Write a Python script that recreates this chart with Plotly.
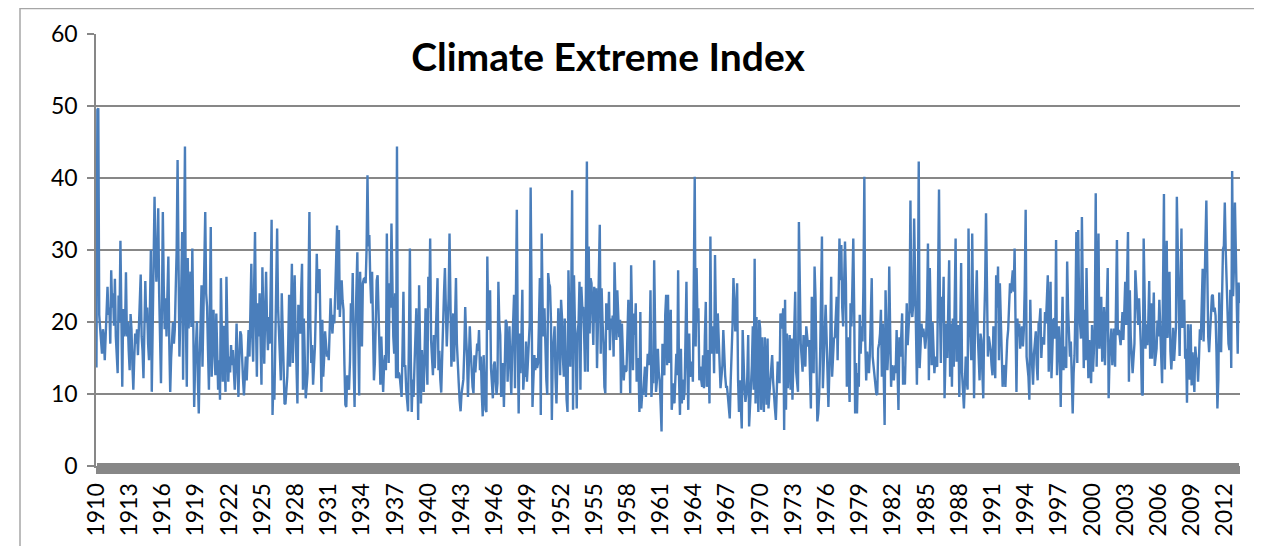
import plotly.graph_objects as go

# ---------------- data (monthly Climate Extreme Index, Jan 1910 onward) -------------
start_year = 1910

cei_part01 = [13.7, 49.5, 49.7, 21, 19.1, 17, 15.6, 19, 17.9, 14.7,
              17.5, 20, 24.9, 21, 22, 17, 27.2, 22, 24, 19.5,
              26, 18, 16, 12.9, 23.7, 20, 31.3, 19.8, 11, 21.8,
              18, 19, 26.9, 18, 20, 16, 13.3, 21.1, 19, 14,
              10.6, 15, 18.4, 17, 19, 15.4, 20, 23.3, 26.6, 18,
              16, 12.2, 18, 25.7, 20, 22, 17, 14.7, 22, 30,
              10.3, 19, 25, 37.4, 30, 25.6, 29, 35.8, 24, 17.7,
              11.5, 22, 35.3, 25, 19, 23.3, 18, 24, 29.1, 17,
              10.3, 15, 18.4, 20, 17, 19, 24.7, 30, 42.5, 24,
              15.2, 21, 25, 32.5, 12, 30, 44.4, 20, 11, 28.9,
              19.1]
cei_part02 = [24, 27, 19.3, 30.2, 20, 8.2, 14, 17, 20.1, 12,
              7.3, 15, 20, 25.1, 13.8, 20, 27, 35.3, 24, 22.1,
              16, 10.6, 22, 33.2, 12.4, 18, 21.7, 16, 12.6, 21.2,
              14, 10.6, 14.7, 9.2, 26.1, 18, 11.7, 19.5, 15, 10.3,
              26.3, 17, 11.7, 15.2, 13, 16.8, 14, 16.1, 13, 10.6,
              14.5, 19.8, 14, 9.6, 15, 18.7, 18.2, 14, 12, 9.8,
              14, 15.2, 11.9, 16, 18.9, 15.2, 20, 28.1, 18, 14.5,
              24.9, 32.5, 20, 12.4, 22.6, 18, 24, 17, 11.3, 27.6,
              20, 14.2, 21, 27, 20, 16.1, 20.7, 17, 25, 34.2,
              7.1, 12, 9.2, 16, 24, 33, 22, 17.5, 14, 11.9,
              24, 18, 13, 8.7]
cei_part03 = [8.6, 11, 12.4, 17, 23.8, 13.8, 20, 28.1, 14.3, 20,
              26.5, 18.9, 14, 8.7, 22.4, 20, 18.4, 24, 28.1, 10.6,
              20.5, 15, 9.4, 11, 12.9, 25, 35.3, 20, 14.3, 16.8,
              11.3, 14, 16.6, 22, 29.5, 24, 27.2, 27.2, 16, 10.3,
              20.3, 12.4, 15, 18.7, 17, 15.2, 16, 14.7, 19, 23.3,
              20, 18.4, 21, 19.8, 24, 30, 33.4, 21.7, 32.8, 20.7,
              23, 25.8, 23, 21.7, 14, 8.5, 8.2, 12.6, 11, 10.6,
              14.5, 22.6, 20, 26.8, 14, 8.2, 19.3, 24, 29.7, 18,
              9.8, 27, 20, 16.6, 25.4, 26, 26.1, 25.4, 30, 40.4,
              30.5, 32.1, 26, 22.6, 27, 18, 11.9, 14.3, 20, 25.8,
              26.5, 20, 15.2]
cei_part04 = [11.3, 18, 15.2, 10.3, 14, 15.4, 13.3, 32.3, 20, 14.3,
              25.4, 22, 33.7, 24, 18, 15.6, 24, 12.2, 44.4, 12.2,
              13, 12.4, 11, 9.6, 16, 24.2, 13.8, 14, 10.6, 9,
              7.6, 18, 30.2, 15, 7.5, 12, 9.6, 14, 17, 21.9,
              15.6, 6.4, 25.1, 18, 8.7, 16.1, 14, 10.3, 16, 21.9,
              15, 11.3, 26.3, 22, 31.6, 17.5, 15, 12.6, 18.2, 13.6,
              18, 22, 26.1, 13.3, 16, 12, 10.2, 15, 21.7, 24,
              27.5, 20, 16.6, 20, 23.3, 32.3, 25, 13.8, 17, 21.2,
              14.5, 22, 26.1, 17, 12.9, 11.5, 9, 7.6, 10, 11.3,
              12, 16, 22.1, 18, 15.2, 9.6, 14, 19.4, 16, 12.9,
              11, 10.1, 15.4]
cei_part05 = [13, 15.4, 17, 16, 18.9, 13.3, 15.2, 10, 6.9, 15.4,
              11, 7.8, 7.5, 29.1, 18.9, 21, 24.4, 13.6, 11, 9.4,
              14, 14.5, 12, 9.9, 11.5, 25.6, 20, 18.2, 9.6, 12,
              14.3, 8.2, 16, 20.3, 19.8, 11.7, 16, 19.4, 13.8, 9.9,
              16.1, 18.9, 23.8, 10.8, 20, 35.6, 18.4, 7.3, 18.4, 12.9,
              18, 24.5, 10.6, 13, 12.4, 17.3, 11.7, 15, 18.9, 19.8,
              38.7, 18.9, 8.2, 12, 15.4, 13.3, 15, 13.6, 14.3, 20,
              26.1, 7.1, 32.3, 22.1, 18, 21.9, 15.6, 12, 9.9, 26.8,
              25.4, 24.9, 20.5, 6.4, 15.6, 17, 19.4, 12.2, 8.7, 15,
              21.9, 18.2, 12.6, 23.1, 20.7, 15, 12.4, 20.5, 14, 9.2,
              7.5, 27.2, 20.5]
cei_part06 = [13.8, 22.6, 38.3, 7.8, 26.5, 20, 16.1, 8, 18.4, 20,
              25.6, 10.6, 24.9, 22, 22.1, 18.4, 13.1, 25, 42.3, 13.1,
              30.5, 18.4, 26.1, 25.4, 20, 16.8, 24.9, 20, 24.7, 13.6,
              19.8, 25, 33.5, 15.6, 24.7, 20, 17, 11, 10.1, 22.6,
              20, 18.9, 24.2, 16.1, 20.5, 19, 20.9, 15.2, 28.3, 20,
              17.5, 24.4, 20, 17.9, 20.3, 10.1, 19.8, 16, 11.9, 14,
              13.1, 13.3, 20, 23.1, 17.7, 10.1, 27.9, 18, 13.3, 21.2,
              18.2, 22.6, 11.7, 15, 14, 7.5, 21.4, 8, 10, 9.9,
              12, 13.8, 9.6, 14.3, 15.6, 14, 16.1, 24.4, 9.6, 12,
              11.5, 28.6, 14, 10.3, 11.9, 16.3, 13, 11.9, 8.5, 4.8,
              17, 14, 12.6]
cei_part07 = [21, 23.8, 14, 23.8, 14.3, 18, 21.7, 7.8, 10, 11.5,
              8.7, 12, 15.6, 12.6, 27.2, 12, 7.1, 16.3, 8.7, 12,
              9.2, 10.3, 18, 25.6, 14, 7.8, 18.4, 12.4, 13, 14.5,
              11.7, 28, 40.2, 16.6, 27.5, 20, 21.9, 11.9, 13.8, 12,
              11, 15.4, 10.8, 18, 22.8, 11, 13, 16.1, 8.7, 31.9,
              15.6, 18, 19.4, 12.9, 29.3, 20, 15.6, 21.2, 18, 15.6,
              10.8, 12.4, 14, 18.9, 14, 12.6, 11, 11, 9.6, 8,
              6.6, 11.7, 15, 19.6, 26.1, 20, 18.7, 21.9, 25.4, 12,
              7.5, 11.9, 8.9, 5.2, 18.9, 12, 10.6, 8.9, 10, 12.4,
              18.2, 5.5, 8, 10.3, 14, 19.4, 10.6, 28.8, 8.7, 20.7,
              12, 7.5, 20.3, 19.1]
cei_part08 = [7.8, 17.9, 12, 7.5, 17.9, 12, 8.5, 17.7, 8, 10,
              12.4, 14, 15.4, 11.9, 9.2, 8, 6.4, 11.7, 14.5, 13,
              11.5, 21.2, 19.1, 20, 21.9, 5, 23.1, 7.8, 18.4, 10.8,
              14, 18.2, 10.6, 17.7, 9.2, 14, 16.6, 24.2, 13.1, 11,
              10.3, 33.9, 21.7, 17, 15, 13.1, 18.2, 16, 13.8, 19.4,
              18, 16.6, 17.5, 11.5, 8, 23.5, 18, 12.9, 27.7, 23.5,
              15, 6.2, 7.3, 10, 15.2, 21.7, 31.9, 10.8, 14, 17.9,
              22.4, 18, 13.3, 8.2, 13, 17, 26.3, 12.4, 15, 17.7,
              17.9, 20, 23.5, 14.7, 22, 31.6, 25.8, 30.7, 22, 19.4,
              24.9, 31.2, 25.4, 11, 17.9, 12, 8.9, 22.6, 19.4, 25,
              31.6, 21.4, 7.3]
cei_part09 = [14.3, 7.3, 12.9, 11, 21, 15.6, 19.4, 17.3, 25, 40.2,
              17.3, 11.9, 15.9, 14, 12.9, 15.6, 20, 26.1, 15.2, 13.8,
              12, 11.5, 10, 9.9, 16.3, 17, 18.4, 21.7, 12.4, 19.8,
              12, 5.7, 24.4, 16, 13.3, 16.3, 27.7, 18.9, 11, 14,
              12.9, 11.9, 14, 12.9, 18.9, 12, 7.8, 17.9, 15.2, 18,
              21.2, 11.3, 13.8, 11.3, 16, 22.6, 16.8, 19, 21.7, 36.9,
              22, 20.7, 22.4, 34.4, 24, 18.4, 11.3, 20.3, 42.3, 13.6,
              16, 19.8, 17.9, 19.1, 18, 16.3, 17.9, 22, 30.9, 11.9,
              27.5, 18, 14, 20, 16, 12.9, 15.2, 14, 13.8, 22.6,
              38.4, 22, 14.3, 23.5, 20, 26.3, 9.4, 15, 19.8, 15,
              22, 28.6, 12.4, 19.8]
cei_part10 = [11, 20.5, 13.8, 22, 31.6, 14.5, 17, 19.6, 9.6, 20,
              28.2, 12.9, 10, 8, 11.5, 15.2, 12, 10.6, 33, 20,
              17.9, 14.7, 32.3, 20, 9.4, 18.9, 22, 27.2, 18.4, 14,
              11.9, 18.4, 17.5, 13, 9.4, 19.8, 25, 35.1, 26.3, 15.2,
              18, 17, 16.1, 14, 12.6, 19.4, 15, 12.2, 26.5, 22,
              27.7, 14.7, 25.4, 20, 17.9, 11, 14, 13.6, 11, 15,
              17.5, 18.9, 22, 25.4, 24, 26, 27.2, 24.2, 30.2, 20,
              10.3, 20.5, 18, 19.8, 16.3, 18, 19.4, 16.6, 18.9, 25,
              35.6, 15.2, 14, 12.4, 9.2, 23.1, 16.6, 14, 11.3, 15.6,
              17, 18.7, 14, 11.9, 19.8, 20, 21.9, 15, 17.9, 17,
              17, 21.4, 19.8]
cei_part11 = [22.6, 26.5, 13.1, 18, 25.6, 12.2, 16, 20.3, 20.5, 17.7,
              31.4, 12.6, 16, 19.4, 16.1, 8.2, 17, 23.5, 13.3, 15,
              16.6, 13.6, 28.4, 21.7, 18, 15.2, 17.3, 12, 7.3, 12.9,
              15.4, 22, 32.5, 14.3, 32.8, 21.7, 19, 17.7, 34.6, 20,
              13.6, 21.7, 14.7, 27.5, 18, 12.2, 17.5, 14, 11.5, 19.6,
              13.1, 16, 19.8, 37.9, 13.8, 22, 32.3, 16.3, 20, 23.5,
              14.5, 17, 22.1, 14, 19.6, 22, 27.5, 9.4, 15.2, 17,
              19.1, 14, 17, 19.1, 13.8, 22, 31.4, 18.2, 18.9, 18,
              16.8, 19, 21.4, 17.5, 22, 25.6, 19.6, 25, 32.5, 11.7,
              24.4, 18, 13.8, 12.9, 15, 17, 27.2, 23.8, 22, 19.6,
              23.3, 20, 16.6, 10.1]
cei_part12 = [9.8, 31.6, 20, 16.3, 19.7, 16.8, 20, 25.7, 14.9, 22.6,
              14.9, 20, 24.1, 13.9, 15, 16.3, 20.2, 18, 23.1, 18,
              13.2, 11.5, 25, 37.8, 13.4, 20, 31.3, 17.8, 22, 27,
              16, 13.4, 16, 19.2, 14.6, 17, 19.2, 37.4, 28, 24,
              15.3, 25, 33, 19.2, 20, 23.1, 14.9, 16.3, 8.8, 19.7,
              15, 12, 19.7, 11.2, 15.8, 13, 10.3, 16.6, 15, 14.9,
              11.7, 15, 19, 17.5, 22, 27.4, 17.3, 27.9, 31, 36.9,
              23.6, 18, 15.8, 18.2, 21, 23.6, 23.8, 21.4, 22, 20.9,
              15.8, 8, 12, 24.1, 18, 15.8, 23, 30.1, 30.6, 36.6,
              30, 26, 18.7, 17, 16.1, 24.5, 13.6, 41, 23.6, 27.9,
              36.6, 30, 22.6, 15.6, 25.5, 22.6]

tick_years = ["1910", "1913", "1916", "1919", "1922", "1925", "1928", "1931",
              "1934", "1937", "1940", "1943", "1946", "1949", "1952", "1955",
              "1958", "1961", "1964", "1967", "1970", "1973", "1976", "1979",
              "1982", "1985", "1988", "1991", "1994", "1997", "2000", "2003",
              "2006", "2009", "2012"]

values = (cei_part01 + cei_part02 + cei_part03 + cei_part04 + cei_part05 +
          cei_part06 + cei_part07 + cei_part08 + cei_part09 + cei_part10 +
          cei_part11 + cei_part12)

months = []
tick_text = []
for k in range(len(values)):
    yr = start_year + k // 12
    mo = k % 12 + 1
    months.append(f"{yr}-{mo:02d}")
    tick_text.append(str(yr) if (mo == 1 and str(yr) in tick_years) else "")

# ---------------- figure -------------------------------------------------------------
# the page body adds an 8px offset, so figure coordinates are shifted by -8px
OFF = 8
W, H = 1262, 546
L, T = 96 - OFF, 34 - OFF
pw, ph = 1144, 432
R, B = W - L - pw, H - T - ph
grid = "#878787"
font_main = "Lato, Carlito, 'Liberation Sans', sans-serif"

fig = go.Figure()
fig.add_trace(go.Scatter(
    x=months, y=values, mode="lines",
    line=dict(color="#4a7ebb", width=2.4),
    showlegend=False, hoverinfo="x+y",
))

# second (invisible) axis only to draw the upward half of the dense category ticks
fig.add_trace(go.Scatter(x=[0], y=[None], xaxis="x2", showlegend=False,
                         hoverinfo="skip"))

n = len(values)
fig.update_layout(
    width=W, height=H,
    margin=dict(l=L, r=R, t=T, b=B, autoexpand=False),
    paper_bgcolor="white", plot_bgcolor="white",
    font=dict(family=font_main, color="black"),
    title=dict(text="<b>Climate Extreme Index</b>",
               xref="container", yref="container",
               x=(608 - OFF) / W, y=1 - (57 - OFF) / H,
               xanchor="center", yanchor="middle",
               font=dict(family=font_main, size=39, color="black")),
    xaxis=dict(type="category", range=[-0.5, n - 0.5],
               tickmode="array", tickvals=months, ticktext=tick_text,
               tickangle=-90, tickfont=dict(size=23, family=font_main),
               ticks="outside", ticklen=6, tickwidth=1, tickcolor=grid,
               showline=True, linecolor=grid, linewidth=2,
               showgrid=False, zeroline=False, automargin=False),
    xaxis2=dict(overlaying="x", anchor="y", side="bottom",
                range=[-0.5, n - 0.5], tickmode="array",
                tickvals=list(range(n)), ticks="inside", ticklen=3,
                tickwidth=1, tickcolor=grid, showticklabels=False,
                showgrid=False, zeroline=False, showline=False),
    yaxis=dict(range=[0, 60.02], tickmode="linear", tick0=0, dtick=10,
               tickfont=dict(size=23, family=font_main),
               ticks="outside", ticklen=7, tickwidth=1.5, tickcolor=grid,
               ticklabelstandoff=5,
               showline=True, linecolor=grid, linewidth=1.5,
               showgrid=True, gridcolor=grid, gridwidth=1.5,
               zeroline=False, automargin=False),
    shapes=[dict(type="rect", xref="paper", yref="paper",
                 x0=(20 - 96) / pw, x1=(1257 - 96) / pw,
                 y0=-0.4, y1=(466 - OFF - 0.5) / ph,
                 line=dict(color="#a6a6a6", width=1.5), layer="below")],
)

fig.write_html("out.html")
